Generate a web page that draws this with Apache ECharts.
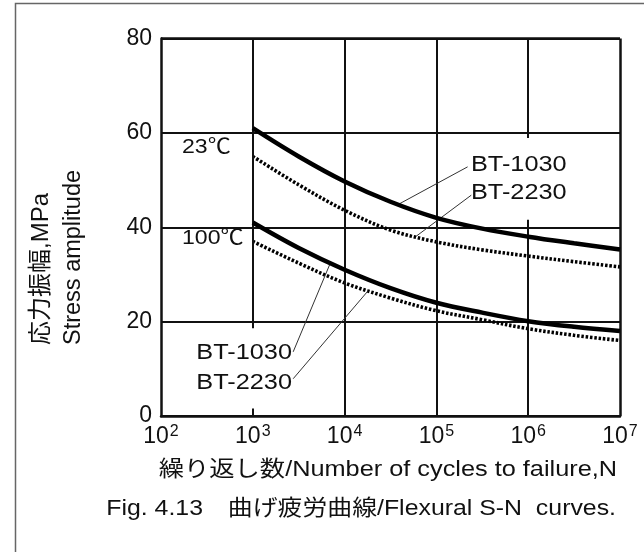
<!DOCTYPE html>
<html>
<head>
<meta charset="utf-8">
<script src="https://cdn.jsdelivr.net/npm/echarts@6/dist/echarts.min.js"></script>
<style>
  html, body { margin: 0; padding: 0; background: #fff; }
  #chart { width: 644px; height: 552px; }
</style>
</head>
<body>
<div id="chart"></div>
<script>
// Flexural S-N curves: stress amplitude vs. cycles to failure (log scale)
const cycles      = [1e3, 3162, 1e4, 31623, 1e5, 316228, 1e6, 3162278, 1e7];
const bt1030_23C  = [61.0, 55.0, 49.7, 45.4, 42.0, 39.7, 38.0, 36.6, 35.3];
const bt2230_23C  = [55.0, 49.0, 43.6, 39.4, 36.9, 35.2, 33.9, 32.7, 31.6];
const bt1030_100C = [41.0, 35.6, 31.0, 27.1, 24.0, 21.9, 20.1, 18.9, 18.0];
const bt2230_100C = [37.0, 32.4, 28.2, 25.0, 22.3, 20.4, 18.5, 17.1, 16.0];

const decadeTicks = [1e2, 1e3, 1e4, 1e5, 1e6, 1e7];
const stressTicks = [0, 20, 40, 60, 80];

const FONT = '"Liberation Sans", Arial, "Noto Sans CJK JP", sans-serif';
const INK = '#111';

const pairs = ys => cycles.map((c, i) => [c, ys[i]]);

// vertical grid lines, some interrupted to leave room for the annotations
const vGrid = [
  [[1e3, 80], [1e3, 18.6]],
  [[1e3, 1.6], [1e3, 0]],
  [[1e4, 80], [1e4, 0]],
  [[1e5, 80], [1e5, 0]],
  [[1e6, 80], [1e6, 58.9]],
  [[1e6, 41.6], [1e6, 0]]
];

// leader lines from the curve labels to their curves
const leaders = [
  [[Math.pow(10, 5.34), 52.8], [Math.pow(10, 4.60), 45.0]],
  [[Math.pow(10, 5.38), 46.8], [Math.pow(10, 4.78), 38.1]],
  [[Math.pow(10, 3.44), 13.6], [Math.pow(10, 3.84), 32.2]],
  [[Math.pow(10, 3.44), 7.9],  [Math.pow(10, 4.25), 26.4]]
];

const seg = (list) => list.map(p => [{ coord: p[0] }, { coord: p[1] }]);

const chart = echarts.init(document.getElementById('chart'), null, { renderer: 'canvas' });

const solid = { color: '#000', width: 4.5, type: 'solid', cap: 'butt' };
const dotted = { color: '#000', width: 3.6, type: [2.5, 1.8], cap: 'butt' };

// horizontally widened text, as set in the figure
const label = (text, x, y, size, align, sx, extra) => Object.assign({
  type: 'text', x: x, y: y, scaleX: sx, silent: true,
  style: { text: text, font: size + 'px ' + FONT, fill: INK, align: align, verticalAlign: 'middle' }
}, extra || {});

chart.setOption({
  backgroundColor: '#fff',
  animation: false,
  grid: { left: 161, top: 38.5, width: 459, height: 377.5, show: false },
  xAxis: {
    type: 'log',
    logBase: 10,
    min: 1e2,
    max: 1e7,
    axisLine: { show: true, onZero: false, lineStyle: { color: INK, width: 2.5 } },
    axisTick: { show: false },
    splitLine: { show: false },
    axisLabel: {
      margin: 8,
      formatter: v => '{b|10}{s|' + Math.round(Math.log10(v)) + '}',
      rich: {
        b: { fontFamily: FONT, fontSize: 23, color: INK, lineHeight: 24, verticalAlign: 'bottom' },
        s: { fontFamily: FONT, fontSize: 16, color: INK, lineHeight: 24, verticalAlign: 'top', padding: [0, 0, 8, 1] }
      }
    }
  },
  yAxis: {
    type: 'value',
    min: 0,
    max: 80,
    interval: 20,
    axisLine: { show: true, lineStyle: { color: INK, width: 2.5 } },
    axisTick: { show: false },
    splitLine: { show: true, lineStyle: { color: INK, width: 2 } },
    axisLabel: { margin: 9, fontFamily: FONT, fontSize: 23, color: INK }
  },
  series: [
    {
      type: 'line', name: 'frame', data: [], silent: true,
      markLine: {
        silent: true, symbol: 'none', animation: false,
        label: { show: false },
        lineStyle: { color: INK, width: 2, type: 'solid' },
        data: seg(vGrid).concat([
          [{ coord: [1e7, 80] }, { coord: [1e7, 0] }],
          [{ coord: [1e2, 80] }, { coord: [1e7, 80] }]
        ].map(d => { d[0].lineStyle = { width: 2.5, color: INK }; return d; }))
      }
    },
    {
      type: 'line', name: 'leaders', data: [], silent: true,
      markLine: {
        silent: true, symbol: 'none', animation: false,
        label: { show: false },
        lineStyle: { color: '#333', width: 1, type: 'solid' },
        data: seg(leaders)
      }
    },
    { type: 'line', name: 'BT-1030 23℃', data: pairs(bt1030_23C), smooth: 0.35, showSymbol: false, lineStyle: solid, z: 5 },
    { type: 'line', name: 'BT-2230 23℃', data: pairs(bt2230_23C), smooth: 0.35, showSymbol: false, lineStyle: dotted, z: 4 },
    { type: 'line', name: 'BT-1030 100℃', data: pairs(bt1030_100C), smooth: 0.35, showSymbol: false, lineStyle: solid, z: 5 },
    { type: 'line', name: 'BT-2230 100℃', data: pairs(bt2230_100C), smooth: 0.35, showSymbol: false, lineStyle: dotted, z: 4 }
  ],
  graphic: [
    // outer frame of the figure
    { type: 'rect', shape: { x: 15.5, y: 3.5, width: 660, height: 580 },
      style: { fill: 'none', stroke: '#666', lineWidth: 1.5 }, silent: true },
    // axis titles
    label('応力振幅,MPa', 41, 345, 24, 'left', 1, { rotation: Math.PI / 2 }),
    label('Stress amplitude', 74, 345, 23.5, 'left', 1, { rotation: Math.PI / 2 }),
    label('繰り返し数/Number of cycles to failure,N', 617, 470, 22, 'right', 1.15),
    label('Fig. 4.13　曲げ疲労曲線/Flexural S-N  curves.', 616, 509, 22, 'right', 1.13),
    // temperature labels
    label('23℃', 182, 147, 21, 'left', 1.1),
    label('100℃', 182, 238, 21, 'left', 1.1),
    // material labels
    label('BT-1030', 471, 165, 22, 'left', 1.15),
    label('BT-2230', 471, 193, 22, 'left', 1.15),
    label('BT-1030', 292, 353, 22, 'right', 1.15),
    label('BT-2230', 292, 383, 22, 'right', 1.15)
  ]
});
</script>
</body>
</html>
